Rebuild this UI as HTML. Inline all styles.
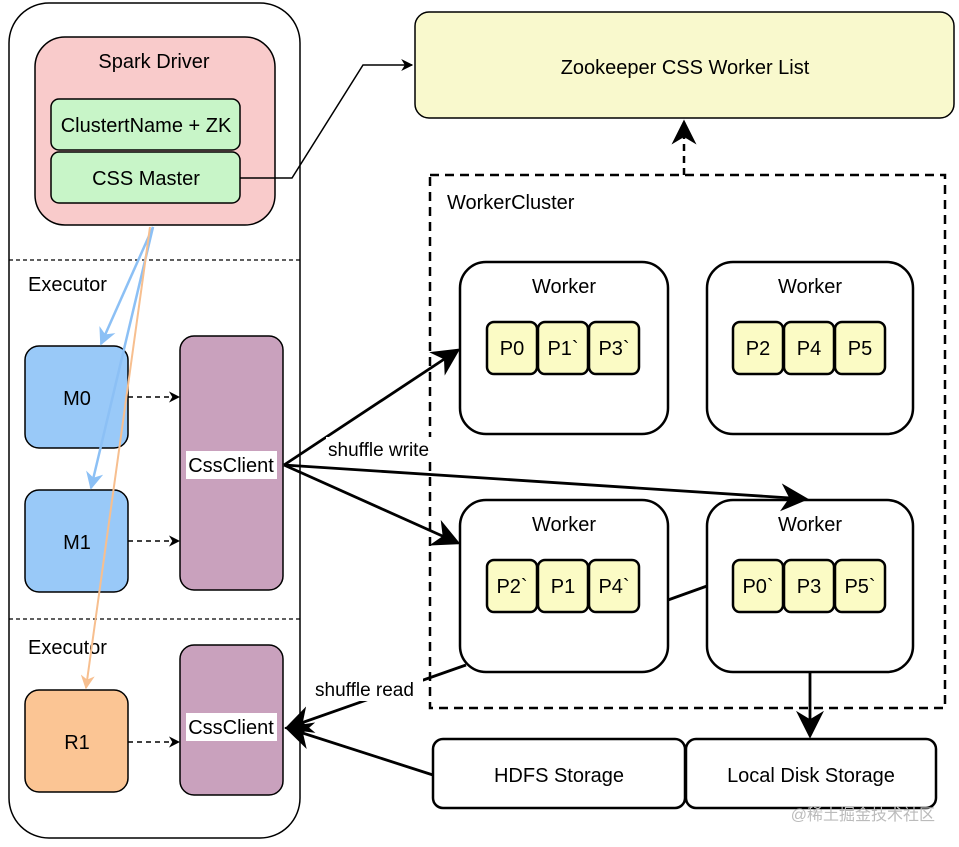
<!DOCTYPE html>
<html><head><meta charset="utf-8"><style>
html,body{margin:0;padding:0;background:#fff;}
svg{display:block;font-family:"Liberation Sans",Arial,sans-serif;}
</style></head><body>
<svg width="959" height="847" viewBox="0 0 959 847" xmlns="http://www.w3.org/2000/svg">
<defs>
<marker id="ab" viewBox="0 0 10 10" refX="9" refY="5" markerWidth="8" markerHeight="8" orient="auto"><path d="M0,0 L10,5 L0,10 L3,5 z" fill="#000"/></marker>
<marker id="as" viewBox="0 0 10 10" refX="9" refY="5" markerWidth="10" markerHeight="10" orient="auto"><path d="M0,0 L10,5 L0,10 L3,5 z" fill="#000"/></marker>
<marker id="abl" viewBox="0 0 10 10" refX="9" refY="5" markerWidth="7" markerHeight="7" orient="auto"><path d="M0,0 L10,5 L0,10 L3,5 z" fill="#8cc0f5"/></marker>
<marker id="aor" viewBox="0 0 10 10" refX="9" refY="5" markerWidth="7" markerHeight="7" orient="auto"><path d="M0,0 L10,5 L0,10 L3,5 z" fill="#f7bf8f"/></marker>
</defs>
<rect x="9" y="3" width="291" height="835" rx="40" fill="#fff" stroke="#000" stroke-width="1.5"/>
<line x1="9" y1="260" x2="300" y2="260" stroke="#000" stroke-width="1.3" stroke-dasharray="4,3"/>
<line x1="9" y1="619" x2="300" y2="619" stroke="#000" stroke-width="1.3" stroke-dasharray="4,3"/>
<rect x="35" y="37" width="240" height="188" rx="30" fill="#f9cbcb" stroke="#000" stroke-width="1.5"/>
<text x="154" y="68" font-size="20" text-anchor="middle">Spark Driver</text>
<rect x="51" y="99" width="189" height="51" rx="8" fill="#c8f5c8" stroke="#000" stroke-width="1.5"/>
<text x="146" y="132" font-size="20" text-anchor="middle">ClustertName + ZK</text>
<rect x="51" y="152" width="189" height="51" rx="8" fill="#c8f5c8" stroke="#000" stroke-width="1.5"/>
<text x="146" y="185" font-size="20" text-anchor="middle">CSS Master</text>
<text x="28" y="291" font-size="20">Executor</text>
<text x="28" y="654" font-size="20">Executor</text>
<rect x="25" y="346" width="103" height="102" rx="14" fill="#99c9f8" stroke="#000" stroke-width="1.5"/>
<text x="77" y="405" font-size="20" text-anchor="middle">M0</text>
<rect x="25" y="490" width="103" height="102" rx="14" fill="#99c9f8" stroke="#000" stroke-width="1.5"/>
<text x="77" y="549" font-size="20" text-anchor="middle">M1</text>
<rect x="25" y="690" width="103" height="102" rx="14" fill="#fbc594" stroke="#000" stroke-width="1.5"/>
<text x="77" y="749" font-size="20" text-anchor="middle">R1</text>
<rect x="180" y="336" width="103" height="254" rx="14" fill="#c9a1bd" stroke="#000" stroke-width="1.5"/>
<rect x="186" y="451" width="91" height="28" fill="#fff"/>
<text x="231" y="472" font-size="20" text-anchor="middle">CssClient</text>
<rect x="180" y="645" width="103" height="150" rx="14" fill="#c9a1bd" stroke="#000" stroke-width="1.5"/>
<rect x="186" y="713" width="91" height="28" fill="#fff"/>
<text x="231" y="734" font-size="20" text-anchor="middle">CssClient</text>
<line x1="153" y1="227" x2="101" y2="344" stroke="#8cc0f5" stroke-width="2.5" marker-end="url(#abl)"/>
<line x1="153" y1="227" x2="91" y2="488" stroke="#8cc0f5" stroke-width="2.5" marker-end="url(#abl)"/>
<line x1="150" y1="227" x2="86" y2="688" stroke="#f7bf8f" stroke-width="2" marker-end="url(#aor)"/>
<line x1="128" y1="397" x2="179" y2="397" stroke="#000" stroke-width="1.4" stroke-dasharray="5,4" marker-end="url(#ab)"/>
<line x1="128" y1="541" x2="179" y2="541" stroke="#000" stroke-width="1.4" stroke-dasharray="5,4" marker-end="url(#ab)"/>
<line x1="128" y1="742" x2="179" y2="742" stroke="#000" stroke-width="1.4" stroke-dasharray="5,4" marker-end="url(#ab)"/>
<rect x="415" y="12" width="539" height="106" rx="14" fill="#f9f9cd" stroke="#000" stroke-width="1.5"/>
<text x="685" y="74" font-size="20" text-anchor="middle">Zookeeper CSS Worker List</text>
<polyline points="240,178 292,178 363,65 412,65" fill="none" stroke="#000" stroke-width="1.5" marker-end="url(#ab)"/>
<rect x="430" y="175" width="515" height="533" fill="none" stroke="#000" stroke-width="2.5" stroke-dasharray="9,6"/>
<line x1="684" y1="175" x2="684" y2="122" stroke="#000" stroke-width="2.5" stroke-dasharray="7,5" marker-end="url(#as)"/>
<text x="447" y="209" font-size="20">WorkerCluster</text>
<g stroke="#000" stroke-width="2.5" fill="#fff">
<rect x="460" y="262" width="208" height="172" rx="26"/>
<rect x="707" y="262" width="206" height="172" rx="26"/>
<rect x="460" y="500" width="208" height="172" rx="26"/>
<rect x="707" y="500" width="206" height="172" rx="26"/>
</g>
<g font-size="20" text-anchor="middle">
<text x="564" y="293">Worker</text><text x="810" y="293">Worker</text>
<text x="564" y="531">Worker</text><text x="810" y="531">Worker</text>
</g>
<g stroke="#000" stroke-width="2.5" fill="#fbfbc5">
<rect x="487" y="322" width="50" height="52" rx="7"/><rect x="538" y="322" width="50" height="52" rx="7"/><rect x="589" y="322" width="50" height="52" rx="7"/>
<rect x="733" y="322" width="50" height="52" rx="7"/><rect x="784" y="322" width="50" height="52" rx="7"/><rect x="835" y="322" width="50" height="52" rx="7"/>
<rect x="487" y="560" width="50" height="52" rx="7"/><rect x="538" y="560" width="50" height="52" rx="7"/><rect x="589" y="560" width="50" height="52" rx="7"/>
<rect x="733" y="560" width="50" height="52" rx="7"/><rect x="784" y="560" width="50" height="52" rx="7"/><rect x="835" y="560" width="50" height="52" rx="7"/>
</g>
<g font-size="20" text-anchor="middle">
<text x="512" y="355">P0</text><text x="563" y="355">P1`</text><text x="614" y="355">P3`</text>
<text x="758" y="355">P2</text><text x="809" y="355">P4</text><text x="860" y="355">P5</text>
<text x="512" y="593">P2`</text><text x="563" y="593">P1</text><text x="614" y="593">P4`</text>
<text x="758" y="593">P0`</text><text x="809" y="593">P3</text><text x="860" y="593">P5`</text>
</g>
<rect x="433" y="739" width="252" height="69" rx="10" fill="#fff" stroke="#000" stroke-width="2.5"/>
<rect x="686" y="739" width="250" height="69" rx="10" fill="#fff" stroke="#000" stroke-width="2.5"/>
<text x="559" y="782" font-size="20" text-anchor="middle">HDFS Storage</text>
<text x="811" y="782" font-size="20" text-anchor="middle">Local Disk Storage</text>
<g stroke="#000" stroke-width="2.8" fill="none">
<line x1="284" y1="465" x2="458" y2="350" marker-end="url(#as)"/>
<line x1="284" y1="465" x2="806" y2="499" marker-end="url(#as)"/>
<line x1="284" y1="465" x2="458" y2="543" marker-end="url(#as)"/>
<line x1="668" y1="600" x2="707" y2="586"/>
<line x1="810" y1="672" x2="810" y2="736" marker-end="url(#as)"/>
<line x1="466" y1="665" x2="287" y2="728" marker-end="url(#as)"/>
<line x1="433" y1="775" x2="287" y2="728" marker-end="url(#as)"/>
</g>
<rect x="326" y="437" width="114" height="24" fill="#fff"/>
<text x="328" y="456" font-size="19">shuffle write</text>
<rect x="313" y="677" width="110" height="24" fill="#fff"/>
<text x="315" y="696" font-size="19">shuffle read</text>
<text x="935" y="820" font-size="16" fill="#bbb" text-anchor="end" font-family="Liberation Sans, Noto Sans CJK SC, sans-serif">@稀土掘金技术社区</text>
</svg>
</body></html>
